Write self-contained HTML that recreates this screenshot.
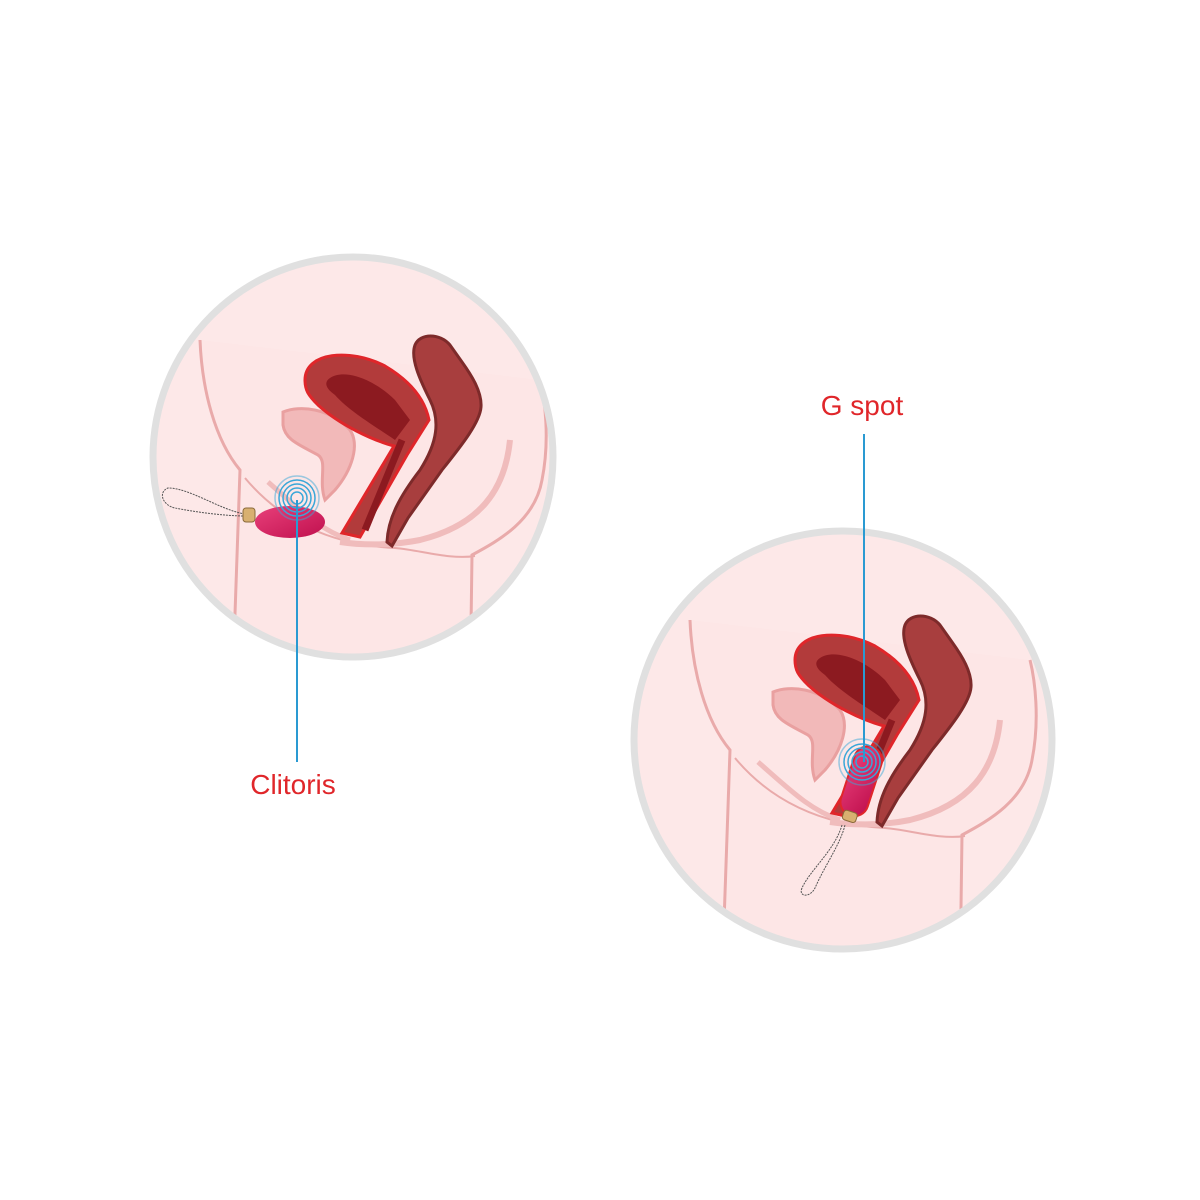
<!DOCTYPE html>
<html><head><meta charset="utf-8"><style>
html,body{margin:0;padding:0;background:#fff;width:1200px;height:1200px;overflow:hidden}
svg{display:block}
</style></head><body>
<svg width="1200" height="1200" viewBox="0 0 1200 1200" xmlns="http://www.w3.org/2000/svg">
<defs>
<clipPath id="c1"><circle cx="353" cy="457" r="200"/></clipPath>
<clipPath id="c2"><circle cx="843" cy="740" r="209"/></clipPath>
<linearGradient id="dev" x1="0" y1="0" x2="1" y2="1"><stop offset="0" stop-color="#e8407a"/><stop offset="1" stop-color="#c0104e"/></linearGradient>
<g id="anat">
  <!-- body -->
  <path d="M200,340 C202,390 215,440 240,470 L232,700 L470,700 L472,555 C500,540 535,520 542,480 C550,440 545,400 540,380" fill="#fde6e6" stroke="#e9aaaa" stroke-width="3"/>
  <path d="M245,478 C280,520 330,545 395,548 C420,550 450,560 475,556" fill="none" stroke="#e9aaaa" stroke-width="2"/>
  <path d="M510,440 C505,490 480,525 420,540 C390,546 360,545 340,542" fill="none" stroke="#f0bcbc" stroke-width="6"/>
  <path d="M268,482 C300,510 320,530 350,540" fill="none" stroke="#f0bcbc" stroke-width="5"/>
  <!-- bladder -->
  <path d="M283,412 C300,405 330,408 350,430 C360,445 352,470 335,490 L325,500 C318,480 328,462 318,455 C300,445 285,440 283,425Z" fill="#f2b9b9" stroke="#e9a0a0" stroke-width="3"/>
  <!-- uterus -->
  <path d="M305,380 C305,352 350,348 385,366 C412,382 425,400 429,420 L407,455 L360,537 L342,533 L394,446 C372,440 340,425 318,405 C308,395 305,390 305,380Z" fill="#b23b3b" stroke="#e0262a" stroke-width="3"/>
  <path d="M330,378 C345,368 375,380 395,400 L410,420 L395,440 C378,428 350,412 335,395 C325,388 324,382 330,378Z" fill="#8c1a20"/>
  <path d="M402,440 L365,530" stroke="#8c1a20" stroke-width="7"/>
  <!-- rectum -->
  <path d="M415,345 C420,333 440,333 450,345 L462,362 C472,376 482,392 481,407 C480,422 462,445 442,470 L408,518 L392,546 L387,542 C388,518 400,496 420,470 C438,442 440,420 430,400 C420,380 410,358 415,345Z" fill="#a83e3e" stroke="#7d2a2a" stroke-width="3"/>
</g>
</defs>

<!-- Circle 1 -->
<circle cx="353" cy="457" r="200" fill="#fde8e8"/>
<g clip-path="url(#c1)"><use href="#anat"/></g>
<circle cx="353" cy="457" r="200" fill="none" stroke="#e0e0e0" stroke-width="7"/>
<!-- device 1 -->
<path d="M245,514 C220,510 190,488 168,488 C158,492 162,505 175,508 C195,512 225,516 245,516" fill="none" stroke="#555" stroke-width="1" stroke-dasharray="2,1"/>
<rect x="243" y="508" width="12" height="14" rx="3" fill="#d8b070" stroke="#8a6a3a"/>
<ellipse cx="290" cy="522" rx="35" ry="16" fill="url(#dev)"/>
<g fill="none" stroke="#3aa7d8" stroke-width="1.5">
<circle cx="297" cy="498" r="6"/><circle cx="297" cy="498" r="10"/><circle cx="297" cy="498" r="14"/><circle cx="297" cy="498" r="18"/><circle cx="297" cy="498" r="22" stroke-opacity=".5"/>
</g>
<line x1="297" y1="500" x2="297" y2="762" stroke="#2a9ad2" stroke-width="2"/>
<text x="293" y="794" text-anchor="middle" font-family="Liberation Sans, sans-serif" font-size="28" fill="#e0262a">Clitoris</text>

<!-- Circle 2 -->
<circle cx="843" cy="740" r="209" fill="#fde8e8"/>
<g clip-path="url(#c2)"><use href="#anat" transform="translate(490,280)"/></g>
<circle cx="843" cy="740" r="209" fill="none" stroke="#e0e0e0" stroke-width="7"/>
<!-- device 2 -->
<path d="M842,825 C835,850 810,870 802,888 C798,897 810,898 815,888 C825,865 840,845 845,825" fill="none" stroke="#555" stroke-width="1" stroke-dasharray="2,1"/>
<g transform="rotate(18 860 785)">
<rect x="846" y="745" width="28" height="72" rx="14" fill="url(#dev)" stroke="#e0262a" stroke-width="2"/>
<rect x="853" y="813" width="14" height="10" rx="3" fill="#d8b070" stroke="#8a6a3a"/>
</g>
<g fill="none" stroke="#3aa7d8" stroke-width="1.5">
<circle cx="862" cy="762" r="6"/><circle cx="862" cy="762" r="10"/><circle cx="862" cy="762" r="14"/><circle cx="862" cy="762" r="18"/><circle cx="862" cy="762" r="23" stroke-opacity=".5"/>
</g>
<line x1="864" y1="434" x2="864" y2="762" stroke="#2a9ad2" stroke-width="2"/>
<text x="862" y="415" text-anchor="middle" font-family="Liberation Sans, sans-serif" font-size="28" fill="#e0262a">G spot</text>
</svg>
</body></html>
